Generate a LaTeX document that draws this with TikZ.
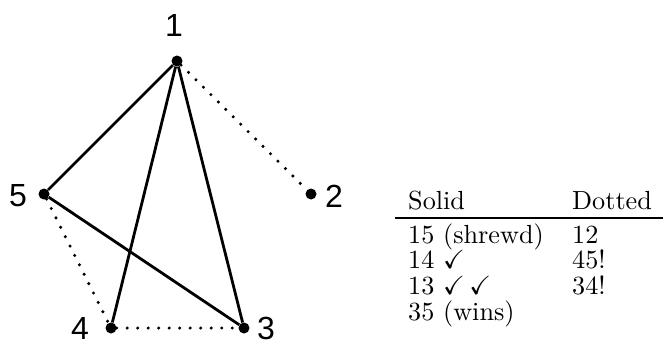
\documentclass[tikz,border=0pt]{standalone}
\usepackage{amssymb}
\usepackage{fontspec}
\newfontfamily\labelfont{Liberation Sans}
\newcommand{\tabw}[1]{\scalebox{2.62}{\fontsize{10}{12}\selectfont #1}}
\begin{document}
\begin{tikzpicture}[x=1pt,y=-1pt,
  vtx/.style={circle,fill=black,inner sep=0pt,minimum size=11pt},
  lbl/.style={font=\labelfont\fontsize{32}{32}\selectfont,inner sep=0pt},
  solidedge/.style={line width=2.8pt},
  dotedge/.style={line width=3.4pt,line cap=round,dash pattern=on 0pt off 10.5pt},
  tabtext/.style={anchor=base west,inner sep=0pt},
  tabrule/.style={line width=2.8pt}]
\useasboundingbox (0,0) rectangle (663,342);
% vertices
\node[vtx] (v1) at (177,61) {};
\node[vtx] (v2) at (311,194) {};
\node[vtx] (v3) at (244,328) {};
\node[vtx] (v4) at (111,328) {};
\node[vtx] (v5) at (44,194) {};
% labels
\node[lbl] (l1) at (174,25) {1};
\node[lbl] (l2) at (334,196) {2};
\node[lbl] (l3) at (266,328.5) {3};
\node[lbl] (l4) at (80,328) {4};
\node[lbl] (l5) at (18,196) {5};
% solid edges
\draw[solidedge] (v1) -- (v5);
\draw[solidedge] (v1) -- (v4);
\draw[solidedge] (v1) -- (v3);
\draw[solidedge] (v5) -- (v3);
% dotted edges
\draw[dotedge] (v1) -- (v2);
\draw[dotedge] (v5) -- (v4);
\draw[dotedge] (v4) -- (v3);
% table
\node[tabtext] (h1) at (408,209) {\tabw{Solid}};
\node[tabtext] (h2) at (572,209) {\tabw{Dotted}};
\coordinate (rs) at (395,218);
\coordinate (re) at (663,218);
\draw[tabrule] (rs) -- (re);
\node[tabtext] (a1) at (408,243) {\tabw{15 (shrewd)}};
\node[tabtext] (b1) at (572,243) {\tabw{12}};
\node[tabtext] (a2) at (408,268.5) {\tabw{14 $\checkmark$}};
\node[tabtext] (b2) at (572,268.5) {\tabw{45!}};
\node[tabtext] (a3) at (408,294.5) {\tabw{13 $\checkmark\,\checkmark$}};
\node[tabtext] (b3) at (572,294.5) {\tabw{34!}};
\node[tabtext] (a4) at (408,320) {\tabw{35 (wins)}};
\end{tikzpicture}
\end{document}
